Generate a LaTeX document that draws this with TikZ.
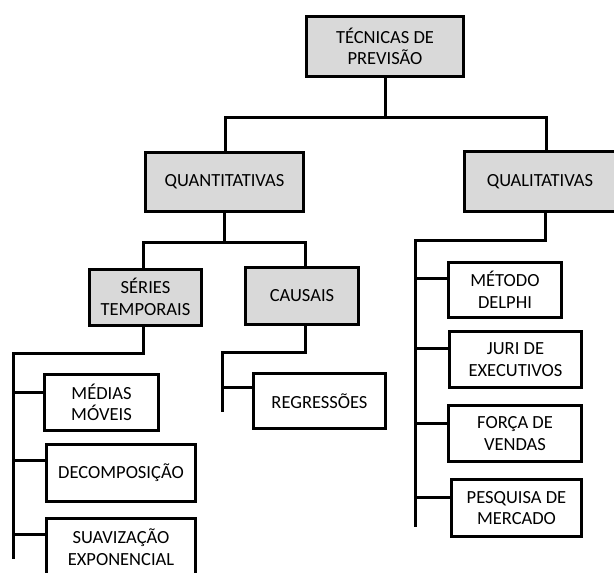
\documentclass[tikz,border=0pt]{standalone}
\usepackage{fontspec}
\setmainfont{Carlito}
\usetikzlibrary{calc}
\definecolor{boxgray}{HTML}{D9D9D9}
\begin{document}
\begin{tikzpicture}[x=1pt,y=-1pt,
  box/.style={draw=black, line width=3pt, fill=boxgray, inner sep=0pt, outer sep=0pt,
    align=center, font=\fontsize{18.5}{21.5}\selectfont},
  wbox/.style={box, fill=white},
  conn/.style={line width=3pt, line join=miter}]
\useasboundingbox (0,0) rectangle (614,573);
\clip (0,0) rectangle (614,573);
% boxes
\node[box, minimum width=157, minimum height=60] (top) at (385,46.5) {TÉCNICAS DE\\PREVISÃO};
\node[box, minimum width=158, minimum height=59] (quant) at (224.5,182) {QUANTITATIVAS};
\node[box, minimum width=151, minimum height=60] (qual) at (540,181.5) {QUALITATIVAS};
\node[box, minimum width=112, minimum height=56] (series) at (145.5,297) {SÉRIES\\TEMPORAIS};
\node[box, minimum width=113, minimum height=57] (causais) at (302,296) {CAUSAIS};
\node[wbox, minimum width=114, minimum height=56] (medias) at (101.5,402.5) {MÉDIAS\\MÓVEIS};
\node[wbox, minimum width=149, minimum height=57] (decomp) at (121,473) {DECOMPOSIÇÃO};
\node[wbox, minimum width=149, minimum height=57] (suav) at (121,547) {SUAVIZAÇÃO\\EXPONENCIAL};
\node[wbox, minimum width=132, minimum height=55] (regress) at (319.5,401) {REGRESSÕES};
\node[wbox, minimum width=113, minimum height=55] (delphi) at (505,290) {MÉTODO\\DELPHI};
\node[wbox, minimum width=132, minimum height=56] (juri) at (515.5,359.5) {JURI DE\\EXECUTIVOS};
\node[wbox, minimum width=133, minimum height=56] (forca) at (515,433.5) {FORÇA DE\\VENDAS};
\node[wbox, minimum width=130, minimum height=57] (pesq) at (516.5,508) {PESQUISA DE\\MERCADO};
% junction coordinates
\coordinate (j1l) at (225,117);
\coordinate (j1r) at (546,117);
\coordinate (j2l) at (143,242);
\coordinate (j2r) at (305,242);
\coordinate (j3) at (143,353);
\coordinate (bus1) at (13,353);
\coordinate (bus1e) at (13,559);
\coordinate (j4) at (305,352);
\coordinate (bus2) at (222,352);
\coordinate (bus2e) at (222,412);
\coordinate (j5) at (545,240);
\coordinate (bus3) at (415,240);
\coordinate (bus3e) at (415,527);
% level 1
\draw[conn] (top.south) -- (top.south |- j1l);
\draw[conn] (quant.north -| j1l) -- (j1l) -- (j1r) -- (qual.north -| j1r);
% level 2
\draw[conn] (quant.south) -- (quant.south |- j2l);
\draw[conn] (series.north -| j2l) -- (j2l) -- (j2r) -- (causais.north -| j2r);
% series
\draw[conn] (series.south -| j3) -- (j3) -- (bus1) -- (bus1e);
\draw[conn] (13,392) -- (medias.west |- {(0,392)});
\draw[conn] (13,460) -- (decomp.west |- {(0,460)});
\draw[conn] (13,534) -- (suav.west |- {(0,534)});
% causais
\draw[conn] (causais.south -| j4) -- (j4) -- (bus2) -- (bus2e);
\draw[conn] (222,387) -- (regress.west |- {(0,387)});
% qualitativas
\draw[conn] (qual.south -| j5) -- (j5) -- (bus3) -- (bus3e);
\draw[conn] (415,278) -- (delphi.west |- {(0,278)});
\draw[conn] (415,348) -- (juri.west |- {(0,348)});
\draw[conn] (415,423) -- (forca.west |- {(0,423)});
\draw[conn] (415,497) -- (pesq.west |- {(0,497)});
\end{tikzpicture}
\end{document}
